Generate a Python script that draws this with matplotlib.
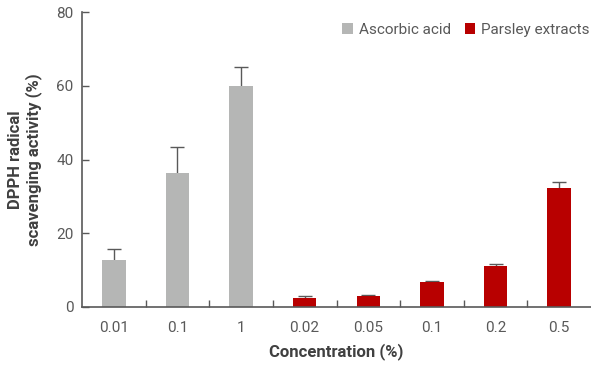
import matplotlib
matplotlib.use("Agg")
import matplotlib.pyplot as plt
import numpy as np
from matplotlib.patches import Patch

plt.rcParams['font.family'] = ['Roboto', 'DejaVu Sans']

# Data
categories = ["0.01", "0.1", "1", "0.02", "0.05", "0.1", "0.2", "0.5"]
ascorbic_values = [12.7, 36.3, 60.0]
ascorbic_errors = [2.9, 7.1, 5.2]
parsley_values = [2.5, 2.9, 6.7, 11.1, 32.2]
parsley_errors = [0.5, 0.3, 0.4, 0.6, 1.6]

gray = "#b5b6b5"
red = "#b80000"
axis_col = "#595959"
text_col = "#595959"

fig = plt.figure(figsize=(5.91, 3.66), dpi=100)
ax = fig.add_axes([82 / 591, (366 - 307) / 366, (591 - 82) / 591, (307 - 12) / 366])

x = np.arange(len(categories))
width = 0.37
n_a = len(ascorbic_values)
# error bars sit behind the bars so only the upper half shows
ax.errorbar(x[:n_a], ascorbic_values, yerr=ascorbic_errors,
            fmt="none", ecolor=axis_col, elinewidth=1, capsize=5, capthick=1, zorder=1)
ax.bar(x[:n_a], ascorbic_values, width, color=gray, zorder=2)
ax.errorbar(x[n_a:], parsley_values, yerr=parsley_errors,
            fmt="none", ecolor=axis_col, elinewidth=1, capsize=5, capthick=1, zorder=1)
ax.bar(x[n_a:], parsley_values, width, color=red, zorder=2)

ax.set_xlim(-0.5, len(categories) - 0.5)
ax.set_ylim(0, 80)
ax.set_yticks([0, 20, 40, 60, 80])
ax.set_xticks(x)
ax.set_xticklabels(categories)
ax.set_xticks(np.arange(0.5, len(categories) - 0.5, 1), minor=True)
ax.tick_params(axis="x", which="major", length=0, pad=10, labelsize=11, labelcolor=text_col)
ax.tick_params(axis="x", which="minor", direction="in", length=5, color=axis_col, width=1)
ax.tick_params(axis="y", direction="in", length=5, color=axis_col, width=1,
               labelsize=11, labelcolor=text_col, pad=6)

for s in ["top", "right"]:
    ax.spines[s].set_visible(False)
for s in ["left", "bottom"]:
    ax.spines[s].set_color(axis_col)
    ax.spines[s].set_linewidth(1.2)
    ax.spines[s].set_zorder(3)

ax.set_ylabel("DPPH radical\nscavenging activity (%)", fontsize=12, fontweight="bold",
              color="#404040", labelpad=10, linespacing=1.15)
ax.set_xlabel("Concentration (%)", fontsize=12, fontweight="bold", color="#404040", labelpad=6)

handles = [Patch(facecolor=gray, label="Ascorbic acid"),
           Patch(facecolor=red, label="Parsley extracts")]
ax.legend(handles=handles, loc="upper right", ncol=2, frameon=False, fontsize=11,
          handlelength=0.7, handleheight=0.7, handletextpad=0.4, columnspacing=0.9,
          labelcolor=text_col, bbox_to_anchor=(1.025, 1.01))

fig.savefig("out.png", dpi=100)
